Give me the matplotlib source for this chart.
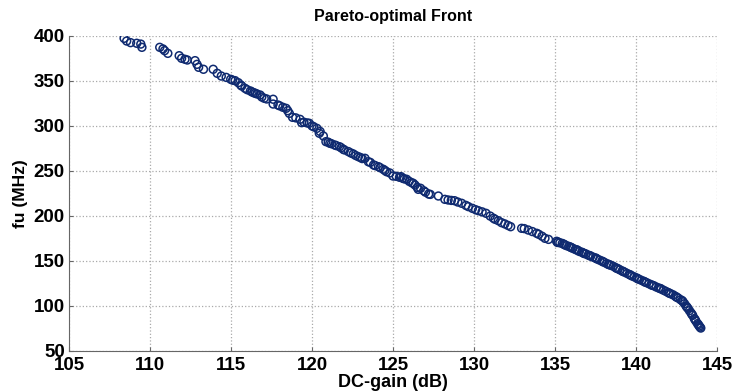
import numpy as np
import matplotlib
matplotlib.use('Agg')
import matplotlib.pyplot as plt

plt.rcParams['font.family'] = ['Liberation Sans', 'DejaVu Sans']
plt.rcParams['font.weight'] = 'bold'

# punkty frontu Pareto
dc_gain = [
    108.4, 108.56, 108.8, 109.18, 109.43, 109.5,
    110.6, 110.8, 110.9, 111.1, 111.8, 111.95, 112.16, 112.3, 112.78, 112.9,
    113.0, 113.3, 113.9, 114.15, 114.4, 114.7, 114.98, 115.1, 115.25, 115.45,
    115.6, 115.66, 115.86, 116.0, 116.2, 116.3, 116.4, 116.5, 116.6, 116.8,
    116.9, 117.05, 117.2, 117.6, 117.6, 117.9, 118.0, 118.2, 118.4, 118.5,
    118.6, 118.8, 119.0, 119.26, 119.36, 119.5, 119.7, 119.83, 120.0, 120.1,
    120.3, 120.45, 120.5, 120.7, 120.86, 121.0, 121.1, 121.2, 121.4, 121.5,
    121.7, 121.8, 121.93, 122.0, 122.24, 122.4, 122.55, 122.7, 122.86, 123.0,
    123.1, 123.27, 123.48, 123.6, 123.8, 123.9, 124.1, 124.2, 124.4, 124.5,
    124.6, 124.8, 125.0, 125.2, 125.4, 125.5, 125.6, 125.7, 125.84, 126.0,
    126.15, 126.25, 126.36, 126.5, 126.56, 126.7, 126.9, 127.0, 127.2, 127.3,
    127.8, 128.2, 128.4, 128.6, 128.8, 129.0, 129.24, 129.5, 129.65, 129.9,
    130.1, 130.27, 130.5, 130.74, 131.0, 131.2, 131.3, 131.5, 131.7, 131.9,
    132.1, 132.26, 132.94, 133.1, 133.35, 133.6, 133.87, 134.0, 134.2, 134.38,
    134.6,
    135.1, 135.15, 135.2, 135.3, 135.45, 135.55, 135.6, 135.7, 135.85, 135.95,
    136.0, 136.1, 136.25, 136.35, 136.4, 136.5, 136.65, 136.75, 136.8, 136.9,
    137.05, 137.15, 137.2, 137.35, 137.5, 137.55, 137.6, 137.75, 137.9, 137.95,
    138.05, 138.2, 138.3, 138.35, 138.45, 138.6, 138.75, 138.8, 138.9, 139.0,
    139.15, 139.2, 139.3, 139.45, 139.6, 139.65, 139.75, 139.9, 140.05, 140.1,
    140.2, 140.35, 140.5, 140.55, 140.65, 140.8, 140.95, 141.0, 141.1, 141.25,
    141.4, 141.5, 141.55, 141.7, 141.85, 142.0, 142.05, 142.15, 142.3, 142.45,
    142.5, 142.6, 142.75, 142.85, 142.9, 143.0, 143.1, 143.15, 143.2, 143.3,
    143.4, 143.45, 143.5, 143.6, 143.65, 143.7, 143.8, 143.85, 143.9, 143.95,
    144.0,
]
fu = [
    397.4, 394.4, 392.6, 391.9, 391.0, 387.4,
    387.4, 385.6, 383.7, 380.7, 378.1, 375.2, 374.1, 373.3, 372.6, 368.5,
    365.2, 363.0, 363.0, 358.5, 355.5, 354.0, 351.9, 350.9, 350.4, 348.1,
    345.5, 344.4, 341.9, 340.3, 338.9, 337.8, 337.0, 336.3, 335.6, 334.4,
    332.2, 330.8, 330.0, 329.7, 324.4, 323.3, 322.4, 320.8, 319.6, 317.0,
    314.0, 309.6, 309.0, 307.4, 303.7, 304.2, 303.4, 303.0, 300.1, 299.2,
    297.4, 291.9, 293.9, 288.9, 282.6, 282.0, 280.8, 280.3, 278.9, 278.2,
    277.0, 275.8, 274.1, 273.4, 271.6, 270.0, 268.9, 267.2, 265.9, 264.9,
    263.8, 264.1, 260.3, 259.5, 256.7, 256.0, 254.8, 253.7, 251.9, 250.6,
    249.2, 247.8, 244.4, 244.1, 243.0, 243.7, 241.9, 241.2, 240.8, 238.5,
    237.0, 236.3, 234.4, 231.8, 229.6, 230.8, 228.0, 226.5, 224.4, 224.0,
    222.2, 218.5, 217.8, 217.3, 217.0, 215.5, 214.1, 211.8, 210.4, 208.5,
    207.0, 205.9, 204.6, 203.0, 199.9, 197.5, 196.3, 194.8, 192.6, 191.2,
    189.5, 188.1, 186.3, 186.0, 184.4, 182.7, 180.8, 179.6, 177.5, 175.2,
    174.0,
    171.9, 170.6, 171.0, 170.2, 169.5, 168.6, 168.0, 167.1, 166.2, 165.5,
    164.9, 164.1, 162.8, 162.3, 161.9, 160.6, 159.8, 158.9, 158.3, 157.9,
    156.5, 156.0, 155.4, 154.3, 153.4, 152.8, 152.2, 151.0, 149.9, 149.2,
    148.5, 147.0, 146.3, 145.8, 145.2, 144.1, 142.5, 142.0, 141.3, 140.2,
    138.9, 138.3, 137.6, 136.2, 134.9, 134.5, 133.4, 132.3, 131.1, 130.3,
    129.6, 128.4, 127.3, 126.6, 126.0, 124.7, 123.4, 123.1, 122.5, 121.1,
    120.0, 119.4, 118.9, 117.5, 116.2, 114.8, 114.3, 113.5, 112.3, 110.6,
    109.8, 108.9, 107.0, 106.0, 104.8, 102.5, 99.8, 98.7, 97.5, 94.8,
    92.3, 90.7, 89.6, 86.0, 84.9, 83.1, 80.4, 79.3, 77.8, 76.6,
    75.5,
]

fig = plt.figure(figsize=(7.35, 3.92), dpi=100)
ax = fig.add_axes([0.0939, 0.1046, 0.8816, 0.8036])

ax.scatter(dc_gain, fu, s=32, facecolors='none', edgecolors='#0f2a70',
           linewidths=1.1, zorder=3)

ax.set_xlim(105, 145)
ax.set_ylim(50, 400)
ax.set_xticks(np.arange(105, 146, 5))
ax.set_yticks(np.arange(50, 401, 50))

ax.grid(True, linestyle=':', color='#aaaaaa', linewidth=0.9)
ax.spines['top'].set_visible(False)
ax.spines['right'].set_visible(False)
for s in ['left', 'bottom']:
    ax.spines[s].set_color('#666666')
ax.tick_params(direction='in', length=3, color='#666666', labelsize=13.5)
ax.tick_params(axis='y', pad=3)
ax.tick_params(axis='x', pad=4)
for lab in ax.get_xticklabels() + ax.get_yticklabels():
    lab.set_fontweight('bold')

ax.set_title('Pareto-optimal Front', fontsize=11.5, fontweight='bold', pad=11)
ax.set_xlabel('DC-gain (dB)', fontsize=13, fontweight='bold', labelpad=0)
ax.set_ylabel('fu (MHz)', fontsize=12.5, fontweight='bold', labelpad=4)

plt.savefig('out.png', dpi=100)
plt.close()
